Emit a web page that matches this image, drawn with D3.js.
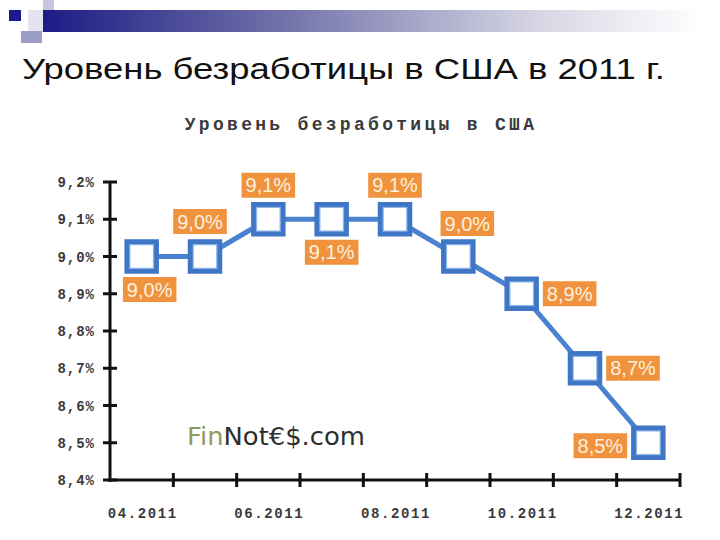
<!DOCTYPE html>
<html>
<head>
<meta charset="utf-8">
<title>Уровень безработицы в США в 2011 г.</title>
<script src="https://cdn.jsdelivr.net/npm/d3@7/dist/d3.min.js"></script>
<style>
  body { margin: 0; background: #fff; }
  svg { display: block; }
</style>
</head>
<body>
<svg width="720" height="540"></svg>
<script>
// data
const months = ['04', '05', '06', '07', '08', '09', '10', '11', '12'];
const rates = [9.0, 9.0, 9.1, 9.1, 9.1, 9.0, 8.9, 8.7, 8.5];
const rateLabels = ['9,0%', '9,0%', '9,1%', '9,1%', '9,1%', '9,0%', '8,9%', '8,7%', '8,5%'];
const labelSide = ['below-right', 'above-left', 'above', 'below', 'above', 'above-right', 'right', 'right', 'left'];
const yTicks = [8.4, 8.5, 8.6, 8.7, 8.8, 8.9, 9.0, 9.1, 9.2];
const xLabelMonths = ['04', '06', '08', '10', '12'];

const svg = d3.select('svg');

// slide decoration (template squares + gradient bar)
const defs = svg.append('defs');
const grad = defs.append('linearGradient').attr('id', 'bar');
grad.append('stop').attr('offset', '0%').attr('stop-color', '#1c1c86');
grad.append('stop').attr('offset', '35%').attr('stop-color', '#6e6ea8');
grad.append('stop').attr('offset', '75%').attr('stop-color', '#d6d6e4');
grad.append('stop').attr('offset', '100%').attr('stop-color', '#ffffff');

svg.append('rect').attr('x', 28).attr('y', 10).attr('width', 20).attr('height', 22).attr('fill', '#e4e4f0');
svg.append('rect').attr('x', 43).attr('y', 0).attr('width', 11).attr('height', 20).attr('fill', '#c6c6de');
svg.append('rect').attr('x', 43).attr('y', 10).attr('width', 660).attr('height', 22).attr('fill', 'url(#bar)');
svg.append('rect').attr('x', 9).attr('y', 10).attr('width', 12).attr('height', 11).attr('fill', '#1a1a8e');
svg.append('rect').attr('x', 21).attr('y', 31).attr('width', 21).attr('height', 12).attr('fill', '#9c9cca');

// slide title (the slide is stretched horizontally)
svg.append('text')
  .attr('x', 22).attr('y', 79)
  .attr('font-family', 'Liberation Sans, Arial, sans-serif')
  .attr('font-size', 29)
  .attr('textLength', 643)
  .attr('lengthAdjust', 'spacingAndGlyphs')
  .attr('fill', '#111')
  .text('Уровень безработицы в США в 2011 г.');

// chart subtitle
svg.append('text')
  .attr('x', 361).attr('y', 130)
  .attr('text-anchor', 'middle')
  .attr('font-family', 'Liberation Mono, Courier New, monospace')
  .attr('font-weight', 'bold')
  .attr('font-size', 18)
  .attr('letter-spacing', 3.3)
  .attr('fill', '#3a3a3a')
  .text('Уровень безработицы в США');

const x = d3.scaleBand().domain(months).range([110, 680]).padding(0);
const y = d3.scaleLinear().domain([8.4, 9.2]).range([480, 182]);

// axes
const axisG = svg.append('g').attr('stroke', '#111').attr('stroke-width', 3);
axisG.append('line').attr('x1', x.range()[0]).attr('x2', x.range()[0]).attr('y1', y(9.2)).attr('y2', y(8.4) + 2);
axisG.append('line').attr('x1', x.range()[0] - 1).attr('x2', x.range()[1]).attr('y1', y(8.4)).attr('y2', y(8.4));

axisG.selectAll('.ytick').data(yTicks).join('line')
  .attr('class', 'ytick')
  .attr('x1', 103).attr('x2', 117)
  .attr('y1', d => y(d)).attr('y2', d => y(d));

const xEdges = months.map(m => x(m)).concat([x.range()[1]]);
axisG.selectAll('.xtick').data(xEdges.slice(1)).join('line')
  .attr('class', 'xtick')
  .attr('x1', d => d).attr('x2', d => d)
  .attr('y1', y(8.4) - 7).attr('y2', y(8.4) + 7);

svg.selectAll('.ylab').data(yTicks).join('text')
  .attr('class', 'ylab')
  .attr('x', 95).attr('y', d => y(d) + 5)
  .attr('text-anchor', 'end')
  .attr('font-family', 'Liberation Mono, Courier New, monospace')
  .attr('font-weight', 'bold')
  .attr('font-size', 14)
  .attr('letter-spacing', 1)
  .attr('fill', '#3a3a3a')
  .text(d => d3.format('.1f')(d).replace('.', ',') + '%');

svg.selectAll('.xlab').data(xLabelMonths).join('text')
  .attr('class', 'xlab')
  .attr('x', d => x(d) + x.bandwidth() / 2 + 1)
  .attr('y', 518)
  .attr('text-anchor', 'middle')
  .attr('font-family', 'Liberation Mono, Courier New, monospace')
  .attr('font-weight', 'bold')
  .attr('font-size', 14)
  .attr('letter-spacing', 1.6)
  .attr('fill', '#3a3a3a')
  .text(d => d + '.2011');

// watermark
const wm = svg.append('text')
  .attr('x', 187).attr('y', 445)
  .attr('font-family', 'DejaVu Sans, sans-serif')
  .attr('font-size', 24)
  .attr('textLength', 178)
  .attr('lengthAdjust', 'spacingAndGlyphs');
wm.append('tspan').attr('fill', '#8e9a5e').text('Fin');
wm.append('tspan').attr('fill', '#2e2e2e').text('Not€$');
wm.append('tspan').attr('fill', '#2e2e2e').text('.com');

// line + markers
const pts = rates.map((r, i) => ({ m: months[i], v: r, label: rateLabels[i], side: labelSide[i] }));
const cx = d => x(d.m) + x.bandwidth() / 2;

svg.append('path')
  .datum(pts)
  .attr('fill', 'none')
  .attr('stroke', '#4a82cf')
  .attr('stroke-width', 5)
  .attr('d', d3.line().x(cx).y(d => y(d.v)));

const mk = svg.selectAll('.mk').data(pts).join('g')
  .attr('class', 'mk')
  .attr('transform', d => `translate(${cx(d)},${y(d.v)})`);
mk.append('rect')
  .attr('x', -14.5).attr('y', -14.5).attr('width', 29).attr('height', 29)
  .attr('fill', '#fff').attr('stroke', '#3f77c6').attr('stroke-width', 5.5);
mk.append('rect')
  .attr('x', -11.8).attr('y', -11.8).attr('width', 23.6).attr('height', 23.6)
  .attr('fill', 'none').attr('stroke', '#8fb8ea').attr('stroke-width', 1.2);

// value labels
const offsets = {
  'above': [0, -34], 'below': [0, 33], 'left': [-48, 3], 'right': [48, 0],
  'above-left': [-5, -35], 'above-right': [9, -33], 'below-right': [8, 33]
};
const lab = svg.selectAll('.lab').data(pts).join('g')
  .attr('class', 'lab')
  .attr('transform', d => `translate(${cx(d) + offsets[d.side][0]},${y(d.v) + offsets[d.side][1]})`);
lab.append('rect').attr('fill', '#f0923e');
lab.append('text')
  .attr('text-anchor', 'middle')
  .attr('y', 7)
  .attr('font-family', 'Liberation Sans, Arial, sans-serif')
  .attr('font-size', 20)
  .attr('fill', '#fdf1de')
  .text(d => d.label);
lab.each(function () {
  const g = d3.select(this);
  const w = g.select('text').node().getComputedTextLength() + 8;
  g.select('rect').attr('x', -w / 2).attr('y', -12.5).attr('width', w).attr('height', 25);
});
</script>
</body>
</html>
